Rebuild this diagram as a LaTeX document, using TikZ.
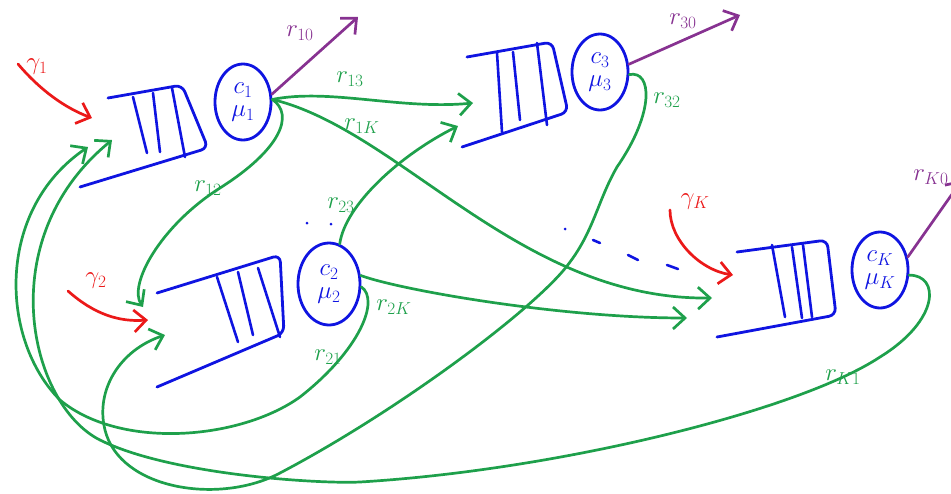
\documentclass[tikz,border=0pt]{standalone}
\usepackage{amsmath,amssymb}
\usepackage{xcolor}
\usepackage{tikz}
\usetikzlibrary{arrows.meta,shapes.geometric}
\definecolor{qblue}{RGB}{15,20,225}
\definecolor{fgreen}{RGB}{30,160,75}
\definecolor{ared}{RGB}{235,25,25}
\definecolor{opurple}{RGB}{135,50,145}
\tikzset{
  srv/.style={draw=qblue, ellipse, line width=2.8pt, text=qblue, align=center, inner sep=0pt, minimum width=56pt, minimum height=76pt, font=\fontsize{23}{23}\selectfont},
  qbox/.style={draw=qblue, line width=2.8pt, rounded corners=7pt, line cap=round},
  qbar/.style={draw=qblue, line width=2.6pt, line cap=round},
  farr/.style={-{Straight Barb[length=12pt,width=22pt]}, draw=fgreen, line width=2.7pt, line cap=round},
  garr/.style={farr, draw=ared},
  parr/.style={farr, draw=opurple},
  flbl/.style={text=fgreen, font=\fontsize{27}{27}\selectfont, inner sep=0pt},
  glbl/.style={flbl, text=ared},
  plbl/.style={flbl, text=opurple}
}
\begin{document}
\begin{tikzpicture}[x=1pt,y=-1pt]
\useasboundingbox (0,0) rectangle (951,493);
\clip (0,0) rectangle (951,493);
% servers
\node[srv] (s1) at (243,102) {$c_1$\\$\mu_1$};
\node[srv, minimum width=62pt, minimum height=82pt] (s2) at (329,284) {$c_2$\\$\mu_2$};
\node[srv] (s3) at (600,72) {$c_3$\\$\mu_3$};
\node[srv] (sK) at (880,270) {$c_K$\\$\mu_K$};
% queues
\draw[qbox] (108,98) -- (182,85) -- (208,148) -- (80,187);
\draw[qbox] (157,293) -- (280,255) -- (284,333) -- (157,387);
\draw[qbox] (467,57) -- (552,42) -- (568,112) -- (462,147);
\draw[qbox] (737,252) -- (827,240) -- (836,315) -- (717,337);
\foreach \xa/\ya/\xb/\yb in {133/97/147/153, 153/93/160/152, 172/88/185/157,
  217/277/238/342, 238/272/253/335, 258/268/280/337,
  497/53/502/132, 513/52/520/120, 537/43/547/125,
  772/245/785/317, 792/247/802/318, 803/245/812/317}
  \draw[qbar] (\xa,\ya) -- (\xb,\yb);
% dots
\foreach \x/\y in {307/223, 331/224, 565/229} \fill[qblue] (\x,\y) circle (1.5pt);
\draw[qbar] (593,240) -- (600,243); \draw[qbar] (628,255) -- (638,260); \draw[qbar] (667,265) -- (678,269);
% queue inputs
\coordinate (q1a) at (88,147); \coordinate (q1b) at (112,140); \coordinate (q1g) at (92,118);
\coordinate (q2a) at (143,307); \coordinate (q2g) at (148,320); \coordinate (q2b) at (165,335);
\coordinate (q3a) at (473,103); \coordinate (q3b) at (458,126);
\coordinate (qKa) at (712,298); \coordinate (qKb) at (687,318); \coordinate (qKg) at (733,275);
\coordinate (g1) at (18,64); \coordinate (g2) at (68,291); \coordinate (gK) at (670,210);
\coordinate (o1) at (358,17); \coordinate (o3) at (740,15); \coordinate (oK) at (962,180);
% routing
\draw[farr] (s1.5) .. controls (330,88) and (400,110) .. (q3a);
\draw[farr] (s1.5) .. controls (400,130) and (520,300) .. (qKa);
\draw[farr] (s1.5) .. controls (295,115) and (280,150) .. (220,188) .. controls (160,226) and (128,285) .. (q2a);
\draw[farr] (s2.75) .. controls (345,205) and (400,155) .. (q3b);
\draw[farr] (s2.15) .. controls (400,290) and (560,318) .. (qKb);
\draw[farr] (s2.-5) .. controls (380,300) and (360,350) .. (300,397) .. controls (240,440) and (120,450) .. (60,400) .. controls (0,340) and (-5,210) .. (q1a);
\draw[farr] (s3.-5) .. controls (652,70) and (655,112) .. (617,167) .. controls (598,200) and (594,230) .. (570,262) .. controls (540,305) and (400,410) .. (280,473) .. controls (220,505) and (120,490) .. (105,430) .. controls (95,390) and (120,350) .. (q2b);
\draw[farr] (sK.-10) .. controls (940,275) and (940,320) .. (880,357) .. controls (800,410) and (560,470) .. (360,482) .. controls (320,484) and (170,475) .. (100,440) .. controls (30,405) and (-10,240) .. (q1b);
% arrivals and departures
\draw[garr] (g1) .. controls (40,90) and (65,108) .. (q1g);
\draw[garr] (g2) .. controls (95,315) and (120,322) .. (q2g);
\draw[garr] (gK) .. controls (670,240) and (700,270) .. (qKg);
\draw[parr] (s1.15) -- (o1);
\draw[parr] (s3.15) -- (o3);
\draw[parr] (sK.25) -- (oK);
% labels
\node[glbl] (lg1) at (37,67) {$\gamma_1$};
\node[glbl] (lg2) at (96,281) {$\gamma_2$};
\node[glbl] (lgK) at (695,202) {$\gamma_K$};
\node[plbl] (l10) at (300,33) {$r_{10}$};
\node[plbl] (l30) at (683,21) {$r_{30}$};
\node[plbl] (lK0) at (931,177) {$r_{K0}$};
\node[flbl] (l13) at (350,79) {$r_{13}$};
\node[flbl] (l1K) at (362,126) {$r_{1K}$};
\node[flbl] (l12) at (208,188) {$r_{12}$};
\node[flbl] (l23) at (341,205) {$r_{23}$};
\node[flbl] (l2K) at (394,307) {$r_{2K}$};
\node[flbl] (l21) at (328,357) {$r_{21}$};
\node[flbl] (l32) at (667,100) {$r_{32}$};
\node[flbl] (lK1) at (843,377) {$r_{K1}$};
\end{tikzpicture}
\end{document}
